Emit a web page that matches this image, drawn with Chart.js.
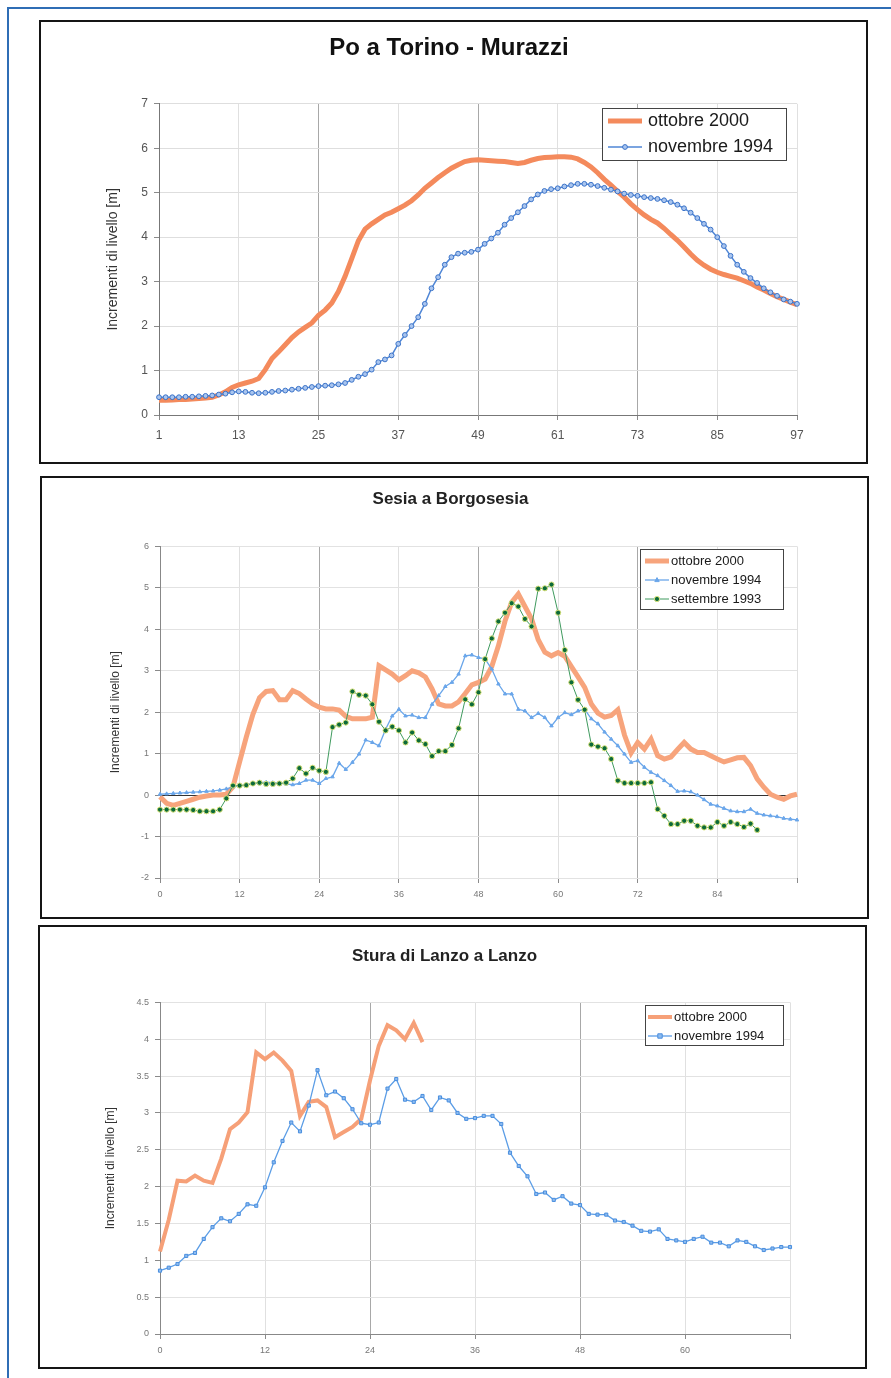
<!DOCTYPE html>
<html><head><meta charset="utf-8">
<script src="https://cdn.jsdelivr.net/npm/chart.js@4.4.0/dist/chart.umd.min.js"></script>
<style>
html,body{margin:0;padding:0;background:#fff;}
body{width:891px;height:1378px;position:relative;overflow:hidden;font-family:"Liberation Sans",Arial,sans-serif;}
.frame-top{position:absolute;left:7px;top:7px;width:884px;height:2px;background:#2f6db5;}
.frame-left{position:absolute;left:7px;top:7px;width:2px;height:1371px;background:#2f6db5;}
.panel{position:absolute;border:2px solid #151515;background:#fff;}
.panel canvas{position:absolute;left:0;top:0;}
</style></head>
<body>
<div class="frame-top"></div><div class="frame-left"></div>
<div class="panel" style="left:39px;top:20px;width:825px;height:440px;"><canvas id="c1" width="825" height="440"></canvas></div>
<div class="panel" style="left:40px;top:476px;width:825px;height:439px;"><canvas id="c2" width="825" height="439"></canvas></div>
<div class="panel" style="left:38px;top:925px;width:825px;height:440px;"><canvas id="c3" width="825" height="440"></canvas></div>
<script>
// ---------- DATA ----------
// Po a Torino - Murazzi (categories 1..97)
const poCategories = Array.from({length: 97}, (_, i) => i + 1);
const poOttobre2000 = [
 0.33,0.33,0.34,0.35,0.35,0.36,0.37,0.38,0.40,0.45,
 0.52,0.62,0.68,0.72,0.76,0.82,1.02,1.27,1.42,1.58,
 1.74,1.87,1.97,2.07,2.24,2.36,2.52,2.78,3.12,3.52,
 3.92,4.18,4.30,4.40,4.50,4.56,4.64,4.72,4.82,4.95,
 5.10,5.22,5.34,5.45,5.55,5.63,5.70,5.73,5.74,5.73,
 5.72,5.71,5.70,5.68,5.66,5.68,5.73,5.77,5.79,5.80,
 5.81,5.81,5.80,5.76,5.68,5.58,5.45,5.30,5.17,5.03,
 4.90,4.75,4.62,4.50,4.40,4.32,4.20,4.06,3.93,3.78,
 3.62,3.48,3.37,3.28,3.21,3.16,3.12,3.08,3.02,2.96,
 2.88,2.81,2.73,2.66,2.60,2.54,2.48];
const poNovembre1994 = [
 0.40,0.40,0.40,0.40,0.41,0.41,0.42,0.43,0.44,0.46,
 0.48,0.51,0.53,0.52,0.50,0.49,0.50,0.52,0.54,0.55,
 0.57,0.59,0.61,0.63,0.65,0.66,0.67,0.69,0.72,0.79,
 0.86,0.92,1.02,1.19,1.25,1.34,1.60,1.80,2.00,2.20,
 2.50,2.85,3.10,3.38,3.55,3.63,3.65,3.67,3.72,3.85,
 3.97,4.10,4.28,4.43,4.56,4.70,4.85,4.96,5.04,5.08,
 5.10,5.14,5.17,5.20,5.20,5.18,5.15,5.11,5.07,5.03,
 4.98,4.95,4.93,4.90,4.88,4.86,4.83,4.79,4.73,4.65,
 4.55,4.43,4.30,4.17,4.00,3.80,3.58,3.38,3.22,3.08,
 2.97,2.85,2.76,2.68,2.60,2.55,2.50];

// Sesia a Borgosesia (categories 0..96)
const sesiaCategories = Array.from({length: 97}, (_, i) => i);
const sesiaOttobre2000 = [
 -0.04,-0.20,-0.25,-0.20,-0.15,-0.10,-0.05,-0.02,0.00,0.00,
 0.02,0.20,0.80,1.40,1.95,2.35,2.50,2.52,2.30,2.30,
 2.52,2.45,2.32,2.20,2.12,2.08,2.08,2.05,1.90,1.84,
 1.84,1.84,1.88,3.12,3.02,2.92,2.78,2.88,3.00,2.95,
 2.85,2.56,2.20,2.15,2.15,2.25,2.45,2.66,2.72,2.80,
 3.10,3.60,4.20,4.65,4.85,4.55,4.25,3.75,3.45,3.36,
 3.44,3.35,3.10,2.85,2.60,2.20,1.98,1.88,1.92,2.06,
 1.45,1.02,1.27,1.11,1.35,0.95,0.87,0.92,1.10,1.27,
 1.11,1.03,1.03,0.95,0.87,0.80,0.85,0.90,0.91,0.71,
 0.39,0.19,0.02,-0.05,-0.10,-0.02,0.02];
const sesiaNovembre1994 = [
 0.02,0.03,0.04,0.05,0.06,0.07,0.08,0.09,0.10,0.12,
 0.15,0.20,0.22,0.25,0.28,0.30,0.31,0.30,0.29,0.27,
 0.25,0.28,0.36,0.36,0.28,0.40,0.44,0.77,0.62,0.79,
 0.99,1.33,1.27,1.19,1.59,1.91,2.07,1.91,1.93,1.87,
 1.87,2.19,2.40,2.62,2.72,2.92,3.36,3.38,3.32,3.28,
 3.04,2.68,2.44,2.44,2.07,2.03,1.87,1.97,1.87,1.67,
 1.87,1.99,1.94,2.03,2.07,1.84,1.72,1.52,1.35,1.19,
 0.99,0.79,0.83,0.67,0.55,0.47,0.35,0.23,0.09,0.10,
 0.08,0.00,-0.11,-0.22,-0.26,-0.32,-0.38,-0.40,-0.40,-0.34,
 -0.44,-0.48,-0.50,-0.52,-0.56,-0.58,-0.60];
const sesiaSettembre1993 = [
 -0.35,-0.35,-0.35,-0.35,-0.35,-0.36,-0.39,-0.39,-0.39,-0.35,
 -0.08,0.23,0.23,0.24,0.28,0.30,0.27,0.27,0.28,0.30,
 0.40,0.65,0.52,0.66,0.59,0.56,1.64,1.70,1.75,2.50,
 2.42,2.40,2.19,1.77,1.56,1.65,1.56,1.27,1.51,1.32,
 1.23,0.94,1.06,1.06,1.21,1.61,2.31,2.19,2.48,3.28,
 3.78,4.19,4.40,4.63,4.55,4.25,4.07,4.98,4.99,5.08,
 4.40,3.50,2.72,2.30,2.06,1.22,1.17,1.13,0.87,0.35,
 0.29,0.29,0.29,0.29,0.31,-0.34,-0.50,-0.70,-0.70,-0.62,
 -0.62,-0.74,-0.78,-0.78,-0.65,-0.74,-0.65,-0.70,-0.77,-0.69,
 -0.84,null,null,null,null,null,null];

// Stura di Lanzo a Lanzo (categories 0..72)
const sturaCategories = Array.from({length: 73}, (_, i) => i);
const sturaOttobre2000 = [
 1.12,1.55,2.08,2.07,2.15,2.08,2.05,2.38,2.78,2.87,
 3.01,3.82,3.73,3.82,3.71,3.57,2.96,3.15,3.17,3.08,
 2.67,2.74,2.81,2.92,3.44,3.91,4.19,4.12,4.00,4.22,
 3.96];
const sturaNovembre1994 = [
 0.86,0.90,0.95,1.06,1.10,1.29,1.45,1.57,1.53,1.63,
 1.76,1.74,1.99,2.33,2.62,2.87,2.75,3.10,3.58,3.24,
 3.29,3.20,3.05,2.86,2.84,2.87,3.33,3.46,3.18,3.15,
 3.23,3.04,3.21,3.17,3.00,2.92,2.93,2.96,2.96,2.85,
 2.46,2.28,2.14,1.90,1.92,1.82,1.87,1.77,1.75,1.63,
 1.62,1.62,1.54,1.52,1.47,1.40,1.39,1.42,1.29,1.27,
 1.25,1.29,1.32,1.24,1.24,1.19,1.27,1.25,1.19,1.14,
 1.16,1.18,1.18];

// ---------- RENDERING ----------
const FONT = '"Liberation Sans", Arial, sans-serif';
Chart.defaults.font.family = FONT;

function drawMarker(ctx, style, x, y, r) {
  ctx.beginPath();
  if (style === 'triangle') {
    ctx.moveTo(x, y - r * 1.2); ctx.lineTo(x + r * 1.1, y + r * 0.8); ctx.lineTo(x - r * 1.1, y + r * 0.8); ctx.closePath();
  } else if (style === 'rect') {
    ctx.rect(x - r, y - r, 2 * r, 2 * r);
  } else {
    ctx.arc(x, y, r, 0, Math.PI * 2);
  }
  ctx.fill(); ctx.stroke();
}

const boxLegend = {
  id: 'boxLegend',
  afterDraw(chart, args, o) {
    if (!o || !o.box) return;
    const ctx = chart.ctx, b = o.box;
    ctx.save();
    ctx.fillStyle = '#fff';
    ctx.fillRect(b.x, b.y, b.w, b.h);
    ctx.strokeStyle = '#444'; ctx.lineWidth = 1;
    ctx.strokeRect(b.x + 0.5, b.y + 0.5, b.w, b.h);
    chart.data.datasets.forEach((ds, i) => {
      const cy = b.y + o.first + i * o.step;
      ctx.strokeStyle = ds.borderColor;
      ctx.lineWidth = ds.borderWidth;
      ctx.beginPath(); ctx.moveTo(o.sx0, cy); ctx.lineTo(o.sx1, cy); ctx.stroke();
      if (ds.pointRadius > 0) {
        ctx.fillStyle = ds.pointBackgroundColor;
        ctx.strokeStyle = ds.pointBorderColor;
        ctx.lineWidth = ds.pointBorderWidth || 1;
        drawMarker(ctx, ds.pointStyle, (o.sx0 + o.sx1) / 2, cy, ds.pointRadius);
      }
      ctx.fillStyle = '#1a1a1a';
      ctx.font = o.font;
      ctx.textBaseline = 'middle';
      ctx.textAlign = 'left';
      ctx.fillText(ds.label, o.tx, cy);
    });
    ctx.restore();
  }
};

function xGrid(dark) {
  return {
    color: c => (c.index % 12 !== 0) ? 'rgba(0,0,0,0)' : (dark.includes(c.index) ? '#a8a8a8' : '#e0e0e0'),
    tickColor: c => (c.index % 12 !== 0) ? 'rgba(0,0,0,0)' : '#8a8a8a',
    tickLength: 5,
    lineWidth: 1
  };
}

function xTicks(last, size, color, pad) {
  return {
    autoSkip: false, maxRotation: 0, minRotation: 0, padding: pad,
    color: color, font: {family: FONT, size: size},
    callback: function(v, i) { return (i % 12 === 0 && i <= last) ? this.getLabelForValue(v) : ''; }
  };
}

const plainNum = v => String(Math.round(v * 10) / 10);

// Chart 1
new Chart(document.getElementById('c1'), {
  type: 'line',
  data: {
    labels: poCategories,
    datasets: [
      {label: 'ottobre 2000', data: poOttobre2000, borderColor: '#f48a5c', borderWidth: 5,
       pointRadius: 0, tension: 0, order: 1},
      {label: 'novembre 1994', data: poNovembre1994, borderColor: '#4f86d6', borderWidth: 1.5,
       pointStyle: 'circle', pointRadius: 2.4, pointBackgroundColor: '#a9c5ef', pointBorderColor: '#3b73c8',
       pointBorderWidth: 1, tension: 0, order: 0}
    ]
  },
  options: {
    responsive: false, animation: false, events: [],
    layout: {padding: {left: 60, right: 69, top: 0, bottom: 0}},
    plugins: {
      legend: {display: false}, tooltip: {enabled: false},
      title: {display: true, text: 'Po a Torino - Murazzi', color: '#111',
              font: {family: FONT, size: 24, weight: 'bold', lineHeight: 1.2}, padding: {top: 12, bottom: 41}},
      boxLegend: {box: {x: 561, y: 86, w: 184, h: 52}, first: 13, step: 26, sx0: 567, sx1: 601, tx: 607,
                  font: '18px ' + FONT}
    },
    scales: {
      x: {
        afterFit: s => { s.height = 47; },
        grid: xGrid([24, 48, 72]),
        border: {color: '#777'},
        ticks: xTicks(96, 12, '#555', 8)
      },
      y: {
        min: 0, max: 7,
        afterFit: s => { s.width = 58; },
        grid: {color: '#dedede', tickColor: '#8a8a8a', tickLength: 5},
        border: {color: '#777'},
        ticks: {stepSize: 1, color: '#555', font: {family: FONT, size: 12}, padding: 6, callback: plainNum},
        title: {display: true, text: 'Incrementi di livello [m]', color: '#333',
                font: {family: FONT, size: 14}, padding: {top: 4, bottom: 0}}
      }
    }
  },
  plugins: [boxLegend]
});

// Chart 2
new Chart(document.getElementById('c2'), {
  type: 'line',
  data: {
    labels: sesiaCategories,
    datasets: [
      {label: 'ottobre 2000', data: sesiaOttobre2000, borderColor: '#f7a47c', borderWidth: 5,
       pointRadius: 0, tension: 0, order: 2},
      {label: 'novembre 1994', data: sesiaNovembre1994, borderColor: '#6aa6ea', borderWidth: 1.3,
       pointStyle: 'triangle', pointRadius: 2, pointBackgroundColor: '#6aa6ea', pointBorderColor: '#6aa6ea',
       pointBorderWidth: 1, tension: 0, order: 1},
      {label: 'settembre 1993', data: sesiaSettembre1993, borderColor: '#3f9a5e', borderWidth: 1,
       pointStyle: 'circle', pointRadius: 2.6, pointBackgroundColor: '#0c6a3a', pointBorderColor: '#d9e27a',
       pointBorderWidth: 1, tension: 0, order: 0}
    ]
  },
  options: {
    responsive: false, animation: false, events: [],
    layout: {padding: {left: 62, right: 70, top: 0, bottom: 0}},
    plugins: {
      legend: {display: false}, tooltip: {enabled: false},
      title: {display: true, text: 'Sesia a Borgosesia', color: '#222',
              font: {family: FONT, size: 17, weight: 'bold', lineHeight: 1.2}, padding: {top: 11, bottom: 37}},
      boxLegend: {box: {x: 598, y: 71, w: 143, h: 60}, first: 12, step: 19, sx0: 603, sx1: 627, tx: 629,
                  font: '13px ' + FONT}
    },
    scales: {
      x: {
        afterFit: s => { s.height = 39; },
        grid: xGrid([24, 48, 72]),
        border: {display: false},
        ticks: xTicks(95, 9, '#777', 6)
      },
      y: {
        min: -2, max: 6,
        afterFit: s => { s.width = 56; },
        grid: {color: c => c.tick.value === 0 ? '#333' : '#e2e2e2', tickColor: '#8a8a8a', tickLength: 5},
        border: {color: '#888'},
        ticks: {stepSize: 1, color: '#777', font: {family: FONT, size: 9}, padding: 6, callback: plainNum},
        title: {display: true, text: 'Incrementi di livello [m]', color: '#333',
                font: {family: FONT, size: 12}, padding: {top: 4, bottom: 0}}
      }
    }
  },
  plugins: [boxLegend]
});

// Chart 3
new Chart(document.getElementById('c3'), {
  type: 'line',
  data: {
    labels: sturaCategories,
    datasets: [
      {label: 'ottobre 2000', data: sturaOttobre2000, borderColor: '#f6a078', borderWidth: 4,
       pointRadius: 0, tension: 0, order: 1},
      {label: 'novembre 1994', data: sturaNovembre1994, borderColor: '#5b9de6', borderWidth: 1.3,
       pointStyle: 'rect', pointRadius: 2.2, pointBackgroundColor: '#8dbcf0', pointBorderColor: '#4a8ede',
       pointBorderWidth: 1, tension: 0, order: 0}
    ]
  },
  options: {
    responsive: false, animation: false, events: [],
    layout: {padding: {left: 59, right: 75, top: 0, bottom: 0}},
    plugins: {
      legend: {display: false}, tooltip: {enabled: false},
      title: {display: true, text: 'Stura di Lanzo a Lanzo', color: '#222',
              font: {family: FONT, size: 17, weight: 'bold', lineHeight: 1.2}, padding: {top: 19, bottom: 36}},
      boxLegend: {box: {x: 605, y: 78, w: 138, h: 40}, first: 12, step: 19, sx0: 608, sx1: 632, tx: 634,
                  font: '13px ' + FONT}
    },
    scales: {
      x: {
        afterFit: s => { s.height = 33; },
        grid: xGrid([24, 48]),
        border: {color: '#888'},
        ticks: xTicks(71, 9, '#777', 6)
      },
      y: {
        min: 0, max: 4.5,
        afterFit: s => { s.width = 61; },
        grid: {color: '#e2e2e2', tickColor: '#8a8a8a', tickLength: 5},
        border: {color: '#888'},
        ticks: {stepSize: 0.5, color: '#777', font: {family: FONT, size: 9}, padding: 6, callback: plainNum},
        title: {display: true, text: 'Incrementi di livello [m]', color: '#333',
                font: {family: FONT, size: 12}, padding: {top: 4, bottom: 0}}
      }
    }
  },
  plugins: [boxLegend]
});
</script>
</body></html>
